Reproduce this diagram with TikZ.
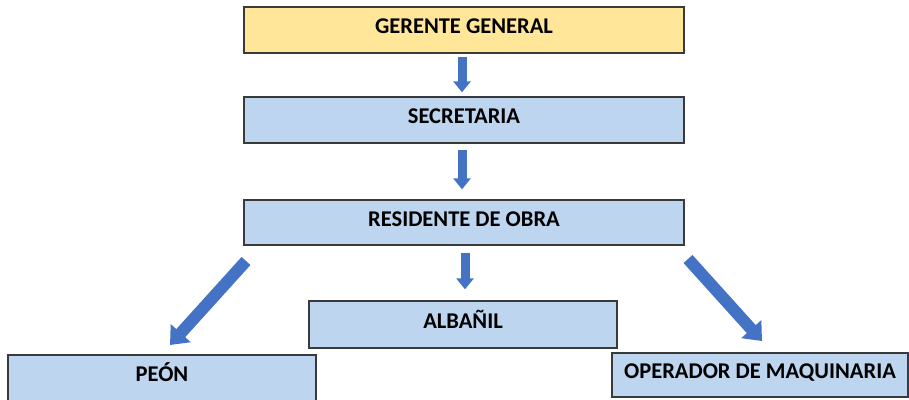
\documentclass[tikz,border=0pt]{standalone}
\usepackage{fontspec}
\setmainfont{Carlito}
\usetikzlibrary{arrows.meta}
\definecolor{boxyellow}{HTML}{FFE699}
\definecolor{boxblue}{HTML}{BDD5EE}
\definecolor{arrowblue}{HTML}{4472C4}
\definecolor{edge}{HTML}{3A3A3A}
\begin{document}
\begin{tikzpicture}[x=1pt,y=-1pt,
  orgbox/.style={draw=edge, line width=1.3pt, fill=boxblue, rectangle, inner sep=0pt,
    font=\fontsize{22.5}{26}\selectfont\bfseries, text height=16pt, text depth=9pt},
  blockarrow/.style={draw=arrowblue, line width=9pt,
    -{Triangle[width=17pt,length=11pt]}},
  diagarrow/.style={draw=arrowblue, line width=12pt,
    -{Triangle[width=26pt,length=16pt]}}]
\useasboundingbox (0,0) rectangle (909,399);
\node[orgbox, fill=boxyellow, minimum width=440pt, minimum height=46pt] (gg) at (464,30) {GERENTE GENERAL};
\node[orgbox, minimum width=440pt, minimum height=46pt] (sec) at (464,120) {SECRETARIA};
\node[orgbox, minimum width=440pt, minimum height=45pt] (res) at (464,222.5) {RESIDENTE DE OBRA};
\node[orgbox, minimum width=308pt, minimum height=47pt] (alb) at (463,324.5) {ALBAÑIL};
\node[orgbox, minimum width=308pt, minimum height=46pt] (peon) at (162,378) {PEÓN};
\node[orgbox, minimum width=296pt, minimum height=44pt] (op) at (760,375) {OPERADOR DE MAQUINARIA};
\coordinate (l1) at (246,261);
\coordinate (l2) at (170,345);
\coordinate (r1) at (688,259);
\coordinate (r2) at (762,341);
\draw[blockarrow] ([xshift=-2pt,yshift=-3pt]gg.south) -- ([xshift=-2pt,yshift=4pt]sec.north);
\draw[blockarrow] ([xshift=-2pt,yshift=-6pt]sec.south) -- ([xshift=-2pt,yshift=10pt]res.north);
\draw[blockarrow] ([xshift=1pt,yshift=-7pt]res.south) -- ([xshift=2pt,yshift=11pt]alb.north);
\draw[diagarrow] (l1) -- (l2);
\draw[diagarrow] (r1) -- (r2);
\end{tikzpicture}
\end{document}
